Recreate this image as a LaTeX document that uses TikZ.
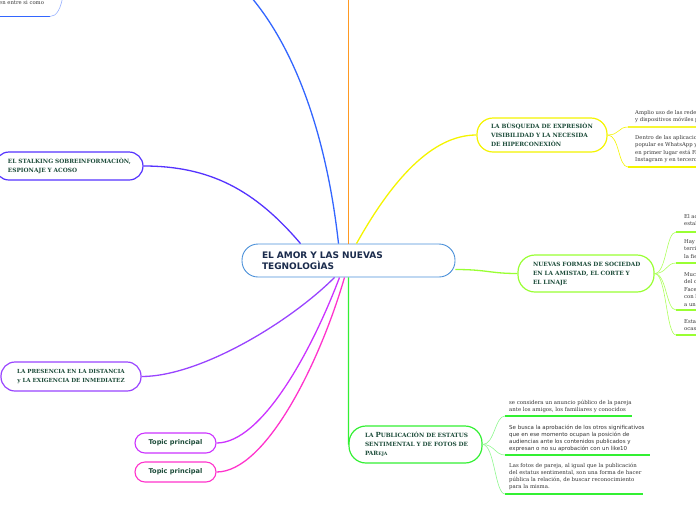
\documentclass[tikz,border=0pt]{standalone}
\usepackage{fontspec}
\setmainfont{DejaVu Serif}
\setsansfont{DejaVu Sans}
\definecolor{cblue}{HTML}{3366FF}
\definecolor{corange}{HTML}{FF9922}
\definecolor{cyellow}{HTML}{F4F400}
\definecolor{clgreen}{HTML}{99FF33}
\definecolor{cgreen}{HTML}{33F033}
\definecolor{cstalk}{HTML}{5533FF}
\definecolor{cpres}{HTML}{9944FF}
\definecolor{ctopa}{HTML}{CC33FF}
\definecolor{ctopb}{HTML}{FF33CC}
\definecolor{croot}{HTML}{4A90D9}
\definecolor{tgreen}{HTML}{1E4D3B}
\definecolor{tnavy}{HTML}{1A2B4C}
\definecolor{tgray}{HTML}{333333}
\newcommand{\padl}[1]{\hspace*{#1pt}}
\begin{document}
\begin{tikzpicture}[x=1pt,y=-1pt,
  pill/.style={fill=white, line width=1.2pt, rounded corners=14pt, inner xsep=0pt, inner ysep=0pt,
    align=left, text=tgreen, font=\fontsize{5.8}{9}\selectfont\bfseries},
  topicp/.style={fill=white, line width=1.1pt, rounded corners=10pt, inner sep=0pt, align=center,
    text width=81pt, minimum height=20pt, text=tgreen, font=\sffamily\bfseries\fontsize{6.6}{8}\selectfont},
  subt/.style={anchor=north west, inner sep=0pt, align=left, text=tgray, font=\fontsize{5.3}{7.3}\selectfont},
  under/.style={line width=1.8pt},
  branch/.style={line width=0.6pt},
  conn/.style={line width=1.3pt}]
\useasboundingbox (0,0) rectangle (696,520);
\clip (0,0) rectangle (696,520);

% ---------- main nodes ----------
\node[pill, draw=croot, line width=0.9pt, rounded corners=16pt, text width=213pt, minimum height=33pt,
  text=tnavy, font=\sffamily\bfseries\fontsize{9}{11}\selectfont] (root) at (348.5,260.5)
  {\padl{20}EL AMOR Y LAS NUEVAS\\\padl{20}TEGNOLOGÌAS};

\node[pill, draw=cstalk, text width=148pt, minimum height=28pt] (stalk) at (69,166)
  {\padl{13}EL STALKING SOBREINFORMACIÒN,\\\padl{13}ESPIONAJE Y ACOSO};

\node[pill, draw=cpres, align=center, text width=140pt, minimum height=29pt,
  font=\fontsize{5.6}{9}\selectfont\bfseries] (pres) at (71,376.5)
  {LA PRESENCIA EN LA DISTANCIA\\y LA EXIGENCIA DE INMEDIATEZ};

\node[topicp, draw=ctopa] (topa) at (175.5,443) {Topic principal};
\node[topicp, draw=ctopb] (topb) at (175.5,472) {Topic principal};

\node[pill, draw=cyellow, text width=130pt, minimum height=34pt, rounded corners=16pt] (busq) at (542,135)
  {\padl{14}LA BÙSQUEDA DE EXPRESIÒN\\\padl{14}VISIBILIDAD Y LA NECESIDA\\\padl{14}DE HIPERCONEXIÒN};

\node[pill, draw=clgreen, text width=136pt, minimum height=37pt, rounded corners=17pt] (nuev) at (586,273.5)
  {\padl{15}NUEVAS FORMAS DE SOCIEDAD\\\padl{15}EN LA AMISTAD, EL CORTE Y\\\padl{15}EL LINAJE};

\node[pill, draw=cgreen, text width=133pt, minimum height=37pt, rounded corners=17pt] (publ) at (415.5,444.5)
  {\padl{16}LA {\fontsize{7}{9}\selectfont P}UBLICACIÓN DE ESTATUS\\\padl{16}SENTIMENTAL Y DE FOTOS DE\\\padl{16}PAR{\fontsize{4.6}{9}\selectfont EJA}};

% ---------- free ends ----------
\coordinate (topend) at (243,-12);
\coordinate (otop) at (348.5,-12);

% ---------- main connectors ----------
\draw[conn, cblue] ([xshift=-10pt]root.north) .. controls (326,130) and (292,40) .. (topend);
\draw[conn, corange] (root.north) -- (otop);
\draw[conn, cyellow] ([xshift=8pt]root.north) .. controls (392,180) and (432,135) .. (busq.west);
\draw[conn, clgreen] ([yshift=-9pt]root.east) .. controls (487,269.5) and (490,273.5) .. (nuev.west);
\draw[conn, cgreen] (root.south) -- (publ.west);
\draw[conn, cstalk] ([xshift=-48pt]root.north) .. controls (255,190) and (210,166) .. (stalk.east);
\draw[conn, cpres] ([xshift=-14pt]root.south) .. controls (290,322) and (200,376.5) .. (pres.east);
\draw[conn, ctopa] ([xshift=-9pt]root.south) .. controls (312,350) and (262,443) .. (topa.east);
\draw[conn, ctopb] ([xshift=-4pt]root.south) .. controls (320,362) and (266,472) .. (topb.east);

% ---------- top-left partial subtopic ----------
\node[subt] (tl) at (-1,0.5) {en entre si como};
\coordinate (tlu) at (50,16.5);
\coordinate (tlp) at (63,-5);
\coordinate (tls) at (-5,16.5);
\draw[under, cblue] (tls) -- (tlu);
\draw[branch, cblue!50] (tlu) .. controls (57,16.5) and (61,8) .. (tlp);

% ---------- subtopics of BUSQUEDA ----------
\node[subt] (b1) at (635,110.2) {Amplio uso de las redes sociales\\y dispositivos móviles por parte};
\node[subt] (b2) at (635,135.2) {Dentro de las aplicaciones\\popular es WhatsApp y\\en primer lugar está Facebook\\Instagram y en tercero};
\coordinate (b1u) at (628,127);
\coordinate (b2u) at (628,167);
\coordinate (b1e) at (700,127);
\coordinate (b2e) at (700,167);
\draw[under, cyellow!80] (b1u) -- (b1e);
\draw[under, cyellow] (b2u) -- (b2e);
\draw[branch, cyellow] (busq.east) .. controls +(12,0) and +(-10,0) .. (b1u);
\draw[branch, cyellow] (busq.east) .. controls +(12,0) and +(-10,0) .. (b2u);

% ---------- subtopics of NUEVAS ----------
\node[subt, font=\fontsize{5.3}{7.4}\selectfont] (n1) at (684,214.2) {El actual\\establece};
\node[subt, font=\fontsize{5.3}{7.4}\selectfont] (n2) at (684,239.2) {Hay\\territorios\\la fiesta};
\node[subt, font=\fontsize{5.3}{7.4}\selectfont] (n3) at (684,272.2) {Muchos\\del día\\Facebook\\con los\\a una};
\node[subt, font=\fontsize{5.3}{7.4}\selectfont] (n4) at (684,319.2) {Estas\\ocasiones};
\coordinate (n1u) at (676,232);
\coordinate (n2u) at (676,263);
\coordinate (n3u) at (676,310);
\coordinate (n4u) at (676,335);
\foreach \k in {n1u,n2u,n3u,n4u}{
  \draw[under, clgreen] (\k) -- ++(30,0);
  \draw[branch, clgreen!80] (nuev.east) .. controls +(12,0) and +(-10,0) .. (\k);
}

% ---------- subtopics of PUBLICACION ----------
\node[subt, font=\fontsize{5.4}{7}\selectfont] (p1) at (509,400.2)
  {se considera un anuncio público de la pareja\\ante los amigos, los familiares y conocidos};
\node[subt, font=\sffamily\fontsize{5.5}{6.8}\selectfont] (p2) at (509,425)
  {Se busca la aprobación de los otros significativos\\que en ese momento ocupan la posición de\\audiencias ante los contenidos publicados y\\expresan o no su aprobación con un like10};
\node[subt, font=\fontsize{5.4}{7}\selectfont] (p3) at (509,463.2)
  {Las fotos de pareja, al igual que la publicación\\del estatus sentimental, son una forma de hacer\\pública la relación, de buscar reconocimiento\\para la misma.};
\coordinate (p1u) at (505,416);
\coordinate (p2u) at (505,455);
\coordinate (p3u) at (505,494);
\coordinate (p1e) at (632,416);
\coordinate (p2e) at (650,455);
\coordinate (p3e) at (643,494);
\draw[under, cgreen] (p1u) -- (p1e);
\draw[under, cgreen] (p2u) -- (p2e);
\draw[under, cgreen] (p3u) -- (p3e);
\draw[branch, cgreen!55] (publ.east) .. controls +(12,0) and +(-10,0) .. (p1u);
\draw[branch, cgreen!55] (publ.east) .. controls +(12,0) and +(-10,0) .. (p2u);
\draw[branch, cgreen!55] (publ.east) .. controls +(12,0) and +(-10,0) .. (p3u);
\end{tikzpicture}
\end{document}
